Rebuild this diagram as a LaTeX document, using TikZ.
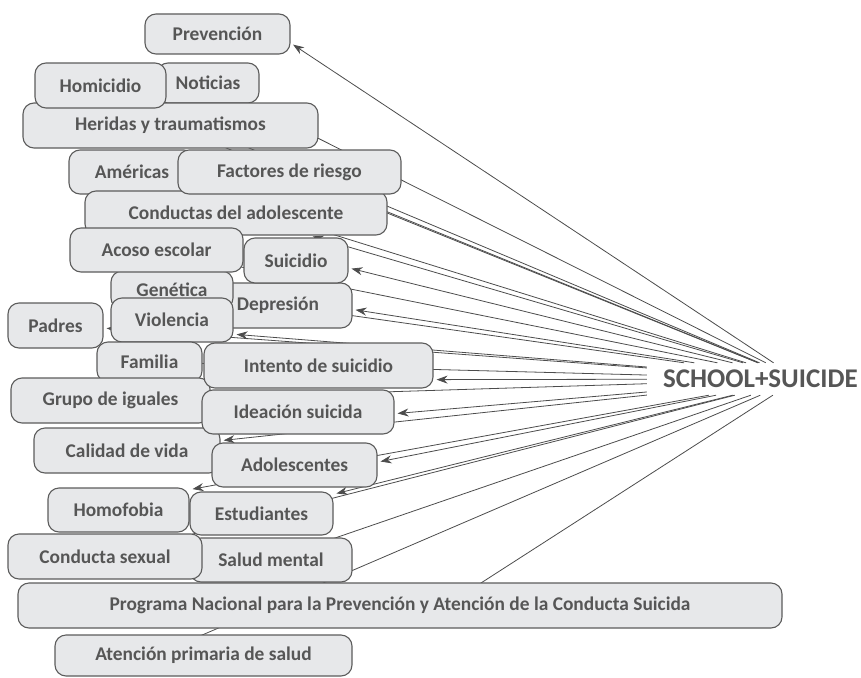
\documentclass[tikz,border=0pt]{standalone}
\usepackage{fontspec}
\setmainfont{Carlito}
\usetikzlibrary{arrows.meta, backgrounds}

\definecolor{boxfill}{HTML}{E7E8EA}
\definecolor{boxline}{HTML}{5C5C5C}
\definecolor{textgrey}{HTML}{565656}
\definecolor{linegrey}{HTML}{4C4C4C}

\begin{document}
\begin{tikzpicture}[
    x=1pt, y=-1pt,
    >={Stealth[length=11pt, width=8pt]},
    tag/.style={draw=boxline, fill=boxfill, rectangle, rounded corners=11pt, line width=1.1pt, minimum height=44pt, inner sep=0pt, text=textgrey, font=\fontsize{19.4}{22}\selectfont\bfseries},
    hub/.style={rectangle, minimum height=32pt, inner xsep=16pt, text width=270pt, align=left, text=textgrey, font=\fontsize{27}{31}\selectfont\bfseries},
    link/.style={->, draw=linegrey, line width=0.8pt, shorten >=3pt}
]
\useasboundingbox (0,0) rectangle (861,677);

% Central term
\node[hub] (hub) at (798,379) {SCHOOL+SUICIDE};

% Terms, drawn back to front
\node[tag, minimum width=145pt, minimum height=40pt] (prevencion) at (217.5,34) {Prevención};
\node[tag, minimum width=102pt, minimum height=40pt] (noticias) at (208,83) {Noticias};
\node[tag, minimum width=295pt, minimum height=45pt] (heridas) at (170.5,125.5) {Heridas y traumatismos};
\node[tag, minimum width=131pt, minimum height=45pt] (homicidio) at (100.5,85.5) {Homicidio};
\node[tag, minimum width=126pt] (americas) at (132,172) {Américas};
\node[tag, minimum width=302pt] (conductas) at (236,213) {Conductas del adolescente};
\node[tag, minimum width=223pt] (factores) at (289.5,172) {Factores de riesgo};
\node[tag, minimum width=148pt, minimum height=45pt] (depresion) at (278,305.5) {Depresión};
\node[tag, minimum width=122pt, minimum height=38pt] (genetica) at (172,290) {Genética};
\node[tag, minimum width=173pt] (acoso) at (156.5,250) {Acoso escolar};
\node[tag, minimum width=104pt, minimum height=45pt] (suicidio) at (296,260.5) {Suicidio};
\node[tag, minimum width=122pt] (violencia) at (172,320) {Violencia};
\node[tag, minimum width=95pt, minimum height=45pt] (padres) at (55.5,325.5) {Padres};
\node[tag, minimum width=105pt, minimum height=40pt] (familia) at (149.5,362) {Familia};
\node[tag, minimum width=199pt, minimum height=45pt] (grupo) at (110.5,400.5) {Grupo de iguales};
\node[tag, minimum width=186pt, minimum height=45pt] (calidad) at (127,450.5) {Calidad de vida};
\node[tag, minimum width=229pt, minimum height=45pt] (intento) at (318.5,365.5) {Intento de suicidio};
\node[tag, minimum width=192pt] (ideacion) at (298,412) {Ideación suicida};
\node[tag, minimum width=165pt] (adolescentes) at (294.5,465) {Adolescentes};
\node[tag, minimum width=141pt] (homofobia) at (118.5,510) {Homofobia};
\node[tag, minimum width=143pt, minimum height=43pt] (estudiantes) at (261.5,513.5) {Estudiantes};
\node[tag, minimum width=162pt] (salud) at (271,560) {Salud mental};
\node[tag, minimum width=194pt, minimum height=45pt] (conductasexual) at (105,556.5) {Conducta sexual};
\node[tag, minimum width=764pt, minimum height=45pt] (programa) at (400,605.5) {Programa Nacional para la Prevención y Atención de la Conducta Suicida};
\node[tag, minimum width=297pt, minimum height=41pt] (atencion) at (203.5,655.5) {Atención primaria de salud};

% Links from the central term, behind the boxes
\begin{scope}[on background layer]
\draw[link] (hub) -- (prevencion.-7);
\draw[link] (hub) -- (noticias.center);
\draw[link] (hub) -- (homicidio.center);
\draw[link] (hub) -- (heridas.center);
\draw[link] (hub) -- (americas.center);
\draw[link] (hub) -- (factores.center);
\draw[link] (hub) -- (conductas.-17);
\draw[link] (hub) -- (acoso.center);
\draw[link] (hub) -- (suicidio.-8);
\draw[link] (hub) -- (genetica.center);
\draw[link] (hub) -- (depresion.-3);
\draw[link] (hub) -- (violencia.-13);
\draw[link] (hub) -- (padres.-3);
\draw[link] (hub) -- (familia.center);
\draw[link] (hub) -- (intento.-7);
\draw[link] (hub) -- (grupo.center);
\draw[link] (hub) -- (ideacion.-1);
\draw[link] (hub) -- (calidad.6);
\draw[link] (hub) -- (adolescentes.2);
\draw[link] (hub) -- (homofobia.16);
\draw[link] (hub) -- (estudiantes.15);
\draw[link] (hub) -- (conductasexual.center);
\draw[link] (hub) -- (salud.center);
\draw[link] (hub) -- ([xshift=46pt]programa.center);
\draw[link] (hub) -- ([xshift=-49pt]atencion.center);
\end{scope}

\end{tikzpicture}
\end{document}
